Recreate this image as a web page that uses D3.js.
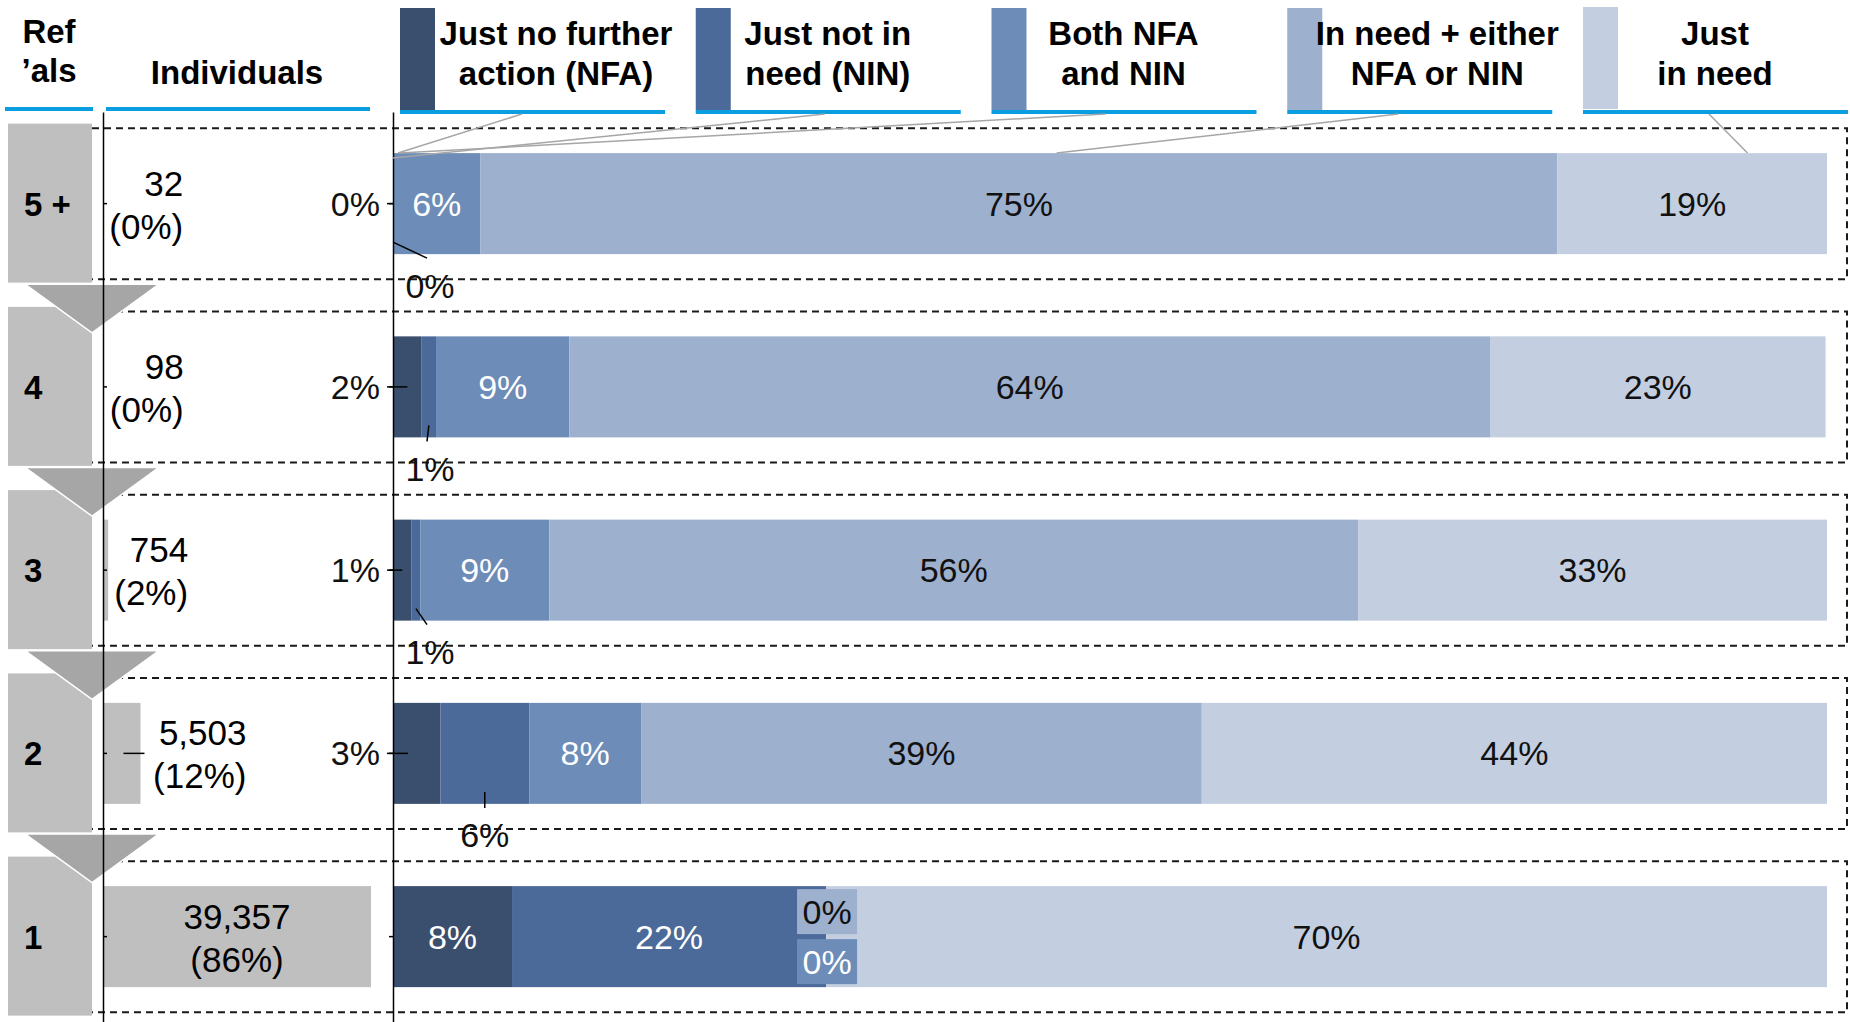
<!DOCTYPE html>
<html lang="en">
<head>
<meta charset="UTF-8">
<title>Referral outcomes</title>
<script src="https://d3js.org/d3.v7.min.js"></script>
<style>
  body { margin: 0; background: #fff; }
  svg text { font-family: "Liberation Sans", Arial, sans-serif; }
  .head { font-weight: bold; font-size: 33px; fill: #000; }
  .pct { font-size: 34px; }
  .num { font-size: 35px; fill: #000; }
</style>
</head>
<body>
<svg id="chart" width="1850" height="1022"></svg>
<script>
// number of referrals per individual
var categories = ["5 +", "4", "3", "2", "1"];
// individuals in each group
var individuals = [32, 98, 754, 5503, 39357];

// outcome series
var series = ["nfa", "nin", "both", "either", "need"];
var seriesLabels = [
  ["Just no further", "action (NFA)"],
  ["Just not in", "need (NIN)"],
  ["Both NFA", "and NIN"],
  ["In need + either", "NFA or NIN"],
  ["Just", "in need"]
];
var seriesColors = ["#3a4e6e", "#4b6a99", "#6d8cb8", "#9db0ce", "#c3cee1"];

// share of each group (%)
var nfa    = [0,    2.0,  1.3,  3.3,  8.3];
var nin    = [0,    1.0,  0.6,  6.2,  21.9];
var both   = [6.1,  9.3,  9.0,  7.8,  0];
var either = [75.1, 64.2, 56.4, 39.1, 0];
var need   = [18.8, 23.4, 32.7, 43.6, 69.8];

var svg = d3.select("#chart");
var blue = "#0a9ee0";

var rows = categories.map(function(c, i) {
  return { cat: c, n: individuals[i], nfa: nfa[i], nin: nin[i], both: both[i], either: either[i], need: need[i] };
});
var total = d3.sum(individuals);
var stacked = d3.stack().keys(series)(rows);

// scales
var x = d3.scaleLinear().domain([0, 100]).range([393, 1827]);
var xi = d3.scaleLinear().domain([0, d3.max(individuals)]).range([103, 371]);
var y = d3.scaleBand().domain(categories).range([112, 1028.25]);
function cy(c) { return y(c) + y.bandwidth() / 2; }
var barH = 101;
var pct = function(v) { return Math.round(v) + "%"; };
var share = d3.format(".0%");

// dashed frame round each row
svg.append("g").selectAll("path")
  .data(categories).enter().append("path")
  .attr("d", function(c) {
    var t = cy(c) - 75.5, b = cy(c) + 75.5;
    return "M92," + t + "H1847V" + b + "H92";
  })
  .attr("fill", "none")
  .attr("stroke", "#1a1a1a")
  .attr("stroke-width", 2)
  .attr("stroke-dasharray", "7,5");

// referral count blocks
svg.append("g").selectAll("rect")
  .data(categories).enter().append("rect")
  .attr("x", 8).attr("width", 84)
  .attr("y", function(c) { return cy(c) - 80; })
  .attr("height", 159)
  .attr("fill", "#bfbfbf");

// arrows between blocks
svg.append("g").selectAll("polygon")
  .data(categories.slice(0, -1)).enter().append("polygon")
  .attr("points", function(c, i) {
    var top = cy(c) + 80.5, tip = cy(categories[i + 1]) - 54;
    return [[25, top], [159, top], [92, tip]].join(" ");
  })
  .attr("fill", "#a6a6a6")
  .attr("stroke", "#fff")
  .attr("stroke-width", 1.5);

svg.append("g").selectAll("text")
  .data(categories).enter().append("text")
  .attr("class", "head")
  .attr("x", 24)
  .attr("y", function(c) { return cy(c) + 12; })
  .text(function(c) { return c; });

// individuals bars
svg.append("g").selectAll("rect")
  .data(rows).enter().append("rect")
  .attr("x", xi(0))
  .attr("width", function(d) { return xi(d.n) - xi(0); })
  .attr("y", function(d) { return cy(d.cat) - barH / 2; })
  .attr("height", barH)
  .attr("fill", "#bfbfbf");

var indLab = svg.append("g").selectAll("g")
  .data(rows).enter().append("g")
  .attr("text-anchor", function(d) { return xi(d.n) - xi(0) > 150 ? "middle" : "end"; })
  .attr("transform", function(d) {
    var w = xi(d.n) - xi(0);
    var lx = w > 150 ? xi(0) + w / 2 : xi(d.n) + 80 + (w > 20 ? 26 : 0);
    return "translate(" + lx + "," + cy(d.cat) + ")";
  });
indLab.append("text").attr("class", "num")
  .attr("y", -8).text(function(d) { return d3.format(",")(d.n); });
indLab.append("text").attr("class", "num")
  .attr("y", 35).text(function(d) { return "(" + share(d.n / total) + ")"; });

// leader for a narrow individuals bar
svg.append("g").selectAll("line")
  .data(rows.filter(function(d) { var w = xi(d.n) - xi(0); return w > 20 && w <= 150; }))
  .enter().append("line")
  .attr("x1", function(d) { return xi(d.n) - 17; })
  .attr("x2", function(d) { return xi(d.n) + 4; })
  .attr("y1", function(d) { return cy(d.cat); })
  .attr("y2", function(d) { return cy(d.cat); })
  .attr("stroke", "#000").attr("stroke-width", 1.5);

// stacked bars
stacked.forEach(function(layer, k) {
  svg.append("g").selectAll("rect")
    .data(layer).enter().append("rect")
    .attr("x", function(d) { return x(d[0]); })
    .attr("width", function(d) { return x(d[1]) - x(d[0]); })
    .attr("y", function(d) { return cy(d.data.cat) - barH / 2; })
    .attr("height", barH)
    .attr("fill", seriesColors[k]);
});

// axes
svg.append("g")
  .attr("transform", "translate(" + xi(0) + ",0)")
  .call(d3.axisRight(y).tickSize(4).tickSizeOuter(0).tickFormat(""))
  .call(function(g) { g.selectAll("path,line").attr("stroke", "#000").attr("stroke-width", 1.5); });
svg.append("g")
  .attr("transform", "translate(" + x(0) + ",0)")
  .call(d3.axisLeft(y).tickSize(4).tickSizeOuter(0).tickFormat(""))
  .call(function(g) { g.selectAll("path,line").attr("stroke", "#000").attr("stroke-width", 1.5); });

// bar labels
var lab = svg.append("g");
stacked.forEach(function(layer, k) {
  var fill = k < 3 ? "#fff" : "#111";
  layer.forEach(function(d) {
    var v = d[1] - d[0];
    var x0 = x(d[0]), w = x(d[1]) - x(d[0]);
    var c = cy(d.data.cat), top = c - barH / 2, bot = c + barH / 2;
    if (k === 0 && w < 100) {
      // to the left of the axis
      lab.append("line").attr("x1", 387).attr("x2", x0 + Math.min(w / 2, 15))
        .attr("y1", c).attr("y2", c).attr("stroke", "#000").attr("stroke-width", 1.5);
      lab.append("text").attr("class", "pct").attr("text-anchor", "end")
        .attr("x", 380).attr("y", c + 12).attr("fill", "#111").text(pct(v));
    } else if (k === 1 && w < 100) {
      // below the bar
      var mid = x0 + w / 2, lx = Math.max(mid, 430);
      lab.append("line").attr("x1", mid).attr("y1", bot - 12)
        .attr("x2", lx === mid ? mid : lx - 3).attr("y2", bot + 4)
        .attr("stroke", "#000").attr("stroke-width", 1.5);
      lab.append("text").attr("class", "pct").attr("text-anchor", "middle")
        .attr("x", lx).attr("y", c + 94).attr("fill", "#111").text(pct(v));
    } else if (w < 1) {
      // empty segment: small tag in the series colour
      var by = top + 3 + (3 - k) * 50;
      lab.append("rect").attr("x", x0 - 29).attr("y", by).attr("width", 60).attr("height", 45)
        .attr("fill", seriesColors[k]);
      lab.append("text").attr("class", "pct").attr("text-anchor", "middle")
        .attr("x", x0 + 1).attr("y", by + 35).attr("fill", fill).text(pct(v));
    } else {
      lab.append("text").attr("class", "pct").attr("text-anchor", "middle")
        .attr("x", x0 + w / 2).attr("y", c + 12).attr("fill", fill).text(pct(v));
    }
  });
});

// headers
var head = svg.append("g");
head.append("text").attr("class", "head").attr("text-anchor", "middle").attr("x", 49).attr("y", 43).text("Ref");
head.append("text").attr("class", "head").attr("text-anchor", "middle").attr("x", 49).attr("y", 82).text("\u2019als");
head.append("rect").attr("x", 5).attr("y", 107).attr("width", 88).attr("height", 4).attr("fill", blue);
head.append("text").attr("class", "head").attr("text-anchor", "middle").attr("x", 237).attr("y", 84).text("Individuals");
head.append("rect").attr("x", 106).attr("y", 107).attr("width", 264).attr("height", 4).attr("fill", blue);

// legend
var legX = d3.scalePoint().domain(series).range([400, 1583]);
var textDx = [156, 132, 132, 150, 132];
var anchorDx = [122, 129, 114, 111, 126];
var first = stacked.map(function(layer) { return layer[0]; });
var targets = [
  [x(first[0][0]) + 5, 153],
  [x(first[1][0]), 158],
  [x(first[2][0]) + 7, 153],
  [x(first[3][0]) + 0.535 * (x(first[3][1]) - x(first[3][0])), 153],
  [x(first[4][0]) + 0.705 * (x(first[4][1]) - x(first[4][0])), 153]
];

var leg = svg.append("g").selectAll("g")
  .data(series).enter().append("g")
  .attr("transform", function(s) { return "translate(" + legX(s) + ",0)"; });
leg.append("rect").attr("x", 0).attr("y", function(s, i) { return i === 4 ? 7 : 8; })
  .attr("width", 35).attr("height", 102)
  .attr("fill", function(s, i) { return seriesColors[i]; });
leg.append("rect").attr("x", 0).attr("y", 110).attr("width", 265).attr("height", 4).attr("fill", blue);
leg.each(function(s, i) {
  var g = d3.select(this);
  seriesLabels[i].forEach(function(t, j) {
    g.append("text").attr("class", "head").attr("text-anchor", "middle")
      .attr("x", textDx[i]).attr("y", 45 + j * 40).text(t);
  });
});

svg.append("g").selectAll("line")
  .data(series).enter().append("line")
  .attr("x1", function(s, i) { return legX(s) + anchorDx[i]; })
  .attr("y1", 114)
  .attr("x2", function(s, i) { return targets[i][0]; })
  .attr("y2", function(s, i) { return targets[i][1]; })
  .attr("stroke", "#a6a6a6")
  .attr("stroke-width", 1.5);
</script>
</body>
</html>
